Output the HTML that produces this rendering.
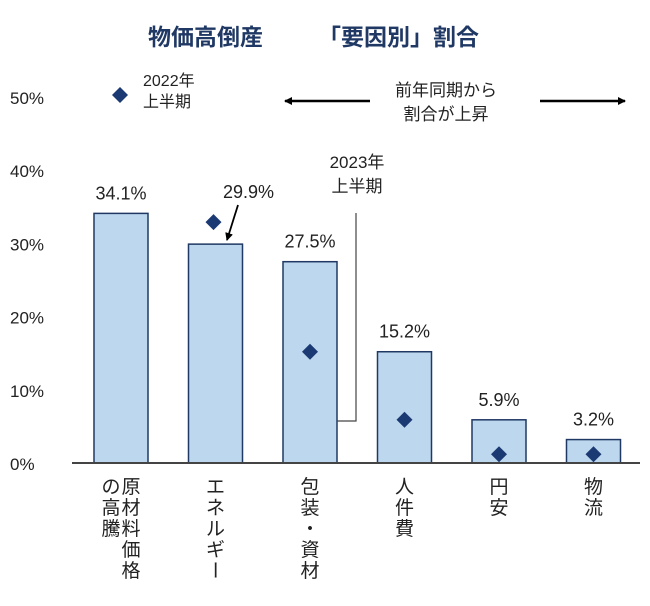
<!DOCTYPE html>
<html><head><meta charset="utf-8"><style>
body{margin:0;background:#fff;}
svg text{font-family:"Liberation Sans","Noto Sans CJK JP",sans-serif;}
</style></head><body>
<svg id="chart" width="650" height="601" xmlns="http://www.w3.org/2000/svg">
<defs><marker id="ah" markerWidth="8" markerHeight="8" refX="7" refY="4" orient="auto" markerUnits="userSpaceOnUse"><path d="M0,0 L8,4 L0,8 z" fill="#000"/></marker></defs>
<text x="148" y="45" font-size="23" font-weight="bold" fill="#1f3864">物価高倒産</text>
<text x="318" y="45" font-size="23" font-weight="bold" fill="#1f3864">「要因別」割合</text>
<g id="yaxis"></g>
<g id="bars"></g>
<line x1="72" y1="463" x2="640" y2="463" stroke="#444" stroke-width="2"/>
<path d="M356,213 V421 H337" fill="none" stroke="#444" stroke-width="1.2"/>
<text x="357" y="168" font-size="17" text-anchor="middle" fill="#222">2023年</text>
<text x="357" y="192" font-size="17" text-anchor="middle" fill="#222">上半期</text>
<g>
<path d="M120,87 L128,95 L120,103 L112,95 z" fill="#1b3a73"/>
<text x="143" y="86" font-size="16" fill="#222">2022年</text>
<text x="143" y="107" font-size="16" fill="#222">上半期</text>
</g>
<line x1="370" y1="101" x2="285" y2="101" stroke="#000" stroke-width="2.5" marker-end="url(#ah)"/>
<line x1="540" y1="101" x2="625" y2="101" stroke="#000" stroke-width="2.5" marker-end="url(#ah)"/>
<text x="446" y="96" font-size="17" text-anchor="middle" fill="#222">前年同期から</text>
<text x="446" y="120" font-size="17" text-anchor="middle" fill="#222">割合が上昇</text>
<line x1="238" y1="205" x2="227" y2="240" stroke="#000" stroke-width="1.8" marker-end="url(#ah)"/>
</svg>
<script>
const categories=["原材料価格|の高騰","エネルギー","包装・資材","人件費","円安","物流"];
const values2023=[34.1,29.9,27.5,15.2,5.9,3.2];
const values2022=[null,32.9,15.2,5.9,1.2,1.2];
const yTicks=[0,10,20,30,40,50];
const NS="http://www.w3.org/2000/svg";
const y0=463,pxPer=7.32;
function yS(v){return y0-v*pxPer;}
function xC(i){return 121+i*94.5;}
function mk(t,a,p){const e=document.createElementNS(NS,t);for(const k in a)e.setAttribute(k,a[k]);p.appendChild(e);return e;}
const ya=document.getElementById('yaxis'),bg=document.getElementById('bars');
yTicks.forEach(t=>{const e=mk('text',{x:10,y:yS(t)+7,'font-size':17,fill:'#222'},ya);e.textContent=t+'%';

});
categories.forEach((c,i)=>{
 const cx=xC(i),v=values2023[i];
 const r=mk('rect',{x:cx-27,y:yS(v),width:54,height:y0-yS(v),fill:'#bdd7ee',stroke:'#1f3864','stroke-width':1.5},bg);
 
 
 const lx=i==1?cx+33:cx;
 const ly=i==1?yS(v)-46:yS(v)-14;
 const l=mk('text',{x:lx,y:ly,'font-size':18,'text-anchor':'middle',fill:'#222'},bg);l.textContent=v.toFixed(1)+'%';
 
 
 const p=values2022[i];
 if(p!=null){const py=yS(p),px=i==1?cx-2:cx;const d=mk('path',{d:`M${px},${py-8} L${px+8},${py} L${px},${py+8} L${px-8},${py} z`,fill:'#1b3a73'},bg);
 
 }
 const cols=c.split('|');
 cols.forEach((col,j)=>{
  const colX=cols.length>1?cx+10-j*20:cx;
  [...col].forEach((ch,k)=>{
   const yy=493+k*21;
   const t=mk('text',{x:colX,y:yy,'font-size':19,'text-anchor':'middle',fill:'#222'},bg);
   t.textContent=ch;
   if(ch==='ー'){t.setAttribute('transform',`rotate(90 ${colX} ${yy-7})`);}
   
   
  });
 });
});
</script>
</body></html>
